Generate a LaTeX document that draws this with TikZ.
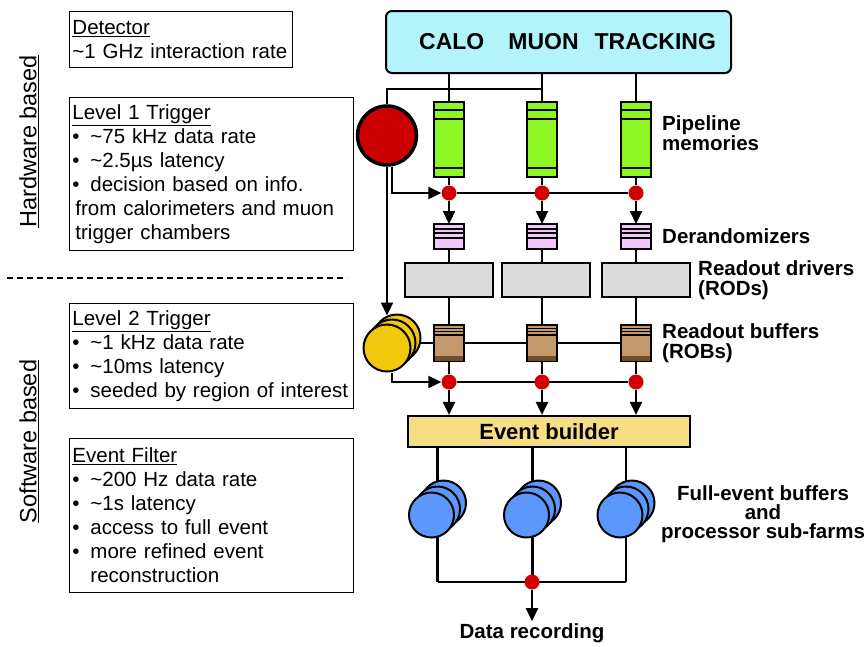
\documentclass[tikz,border=0pt]{standalone}
\usepackage{fontspec}
\setmainfont{Liberation Sans}
\usetikzlibrary{positioning,arrows.meta,calc,backgrounds}

\definecolor{detcyan}{RGB}{178,244,250}
\definecolor{pipegreen}{RGB}{141,247,37}
\definecolor{dermauve}{RGB}{240,200,250}
\definecolor{rodgray}{RGB}{220,220,220}
\definecolor{robtan}{RGB}{196,154,108}
\definecolor{robdark}{RGB}{110,80,45}
\definecolor{evyellow}{RGB}{246,222,132}
\definecolor{l1red}{RGB}{204,0,0}
\definecolor{l2gold}{RGB}{242,200,15}
\definecolor{farmblue}{RGB}{91,152,250}
\definecolor{dotred}{RGB}{210,0,0}

\newcommand{\bul}{\makebox[18pt][l]{\textbullet}}

\begin{document}
\begin{tikzpicture}[
  x=1pt, y=-1pt,
  infobox/.style={draw, line width=0.9pt, anchor=north west, align=left,
                  inner xsep=3pt, font=\fontsize{20.5}{24}\selectfont},
  side/.style={rotate=90, font=\fontsize{23.5}{26}\selectfont},
  lab/.style={font=\bfseries\fontsize{20.5}{20}\selectfont, align=left, anchor=west, inner sep=2pt},
  unit/.style={draw, line width=2pt, inner sep=0pt, outer sep=0pt, minimum width=30pt},
  pipe/.style={unit, fill=pipegreen, minimum height=75pt},
  derand/.style={unit, fill=dermauve, minimum height=25pt},
  rob/.style={unit, fill=robtan, minimum height=36pt},
  rod/.style={draw, line width=2.2pt, fill=rodgray, minimum width=88pt, minimum height=34pt},
  disk/.style={circle, draw, line width=2pt, inner sep=0pt},
  dot/.style={circle, fill=dotred, minimum size=15pt, inner sep=0pt},
  wire/.style={line width=2.2pt},
  arr/.style={wire, -{Triangle[length=13pt, width=12pt]}},
  sub/.style={line width=1.2pt},
  divider/.style={line width=2.5pt, dash pattern=on 6pt off 4pt}
]
\useasboundingbox (0,0) rectangle (866,646);

% Left: trigger levels
\node[side] (hw) at (29,141.5) {\underline{Hardware based}};
\node[side] (sw) at (29,441.5) {\underline{Software based}};
\node[infobox, text width=217pt, minimum height=56pt] (detinfo) at (69,11)
  {\underline{Detector}\\\textasciitilde1 GHz interaction rate};
\node[infobox, text width=278pt, minimum height=153pt] (l1info) at (69,97)
  {\underline{Level 1 Trigger}\\
   \bul\textasciitilde75 kHz data rate\\
   \bul\textasciitilde2.5µs latency\\
   \bul decision based on info.\\
   \hspace*{3pt}from calorimeters and muon\\
   \hspace*{3pt}trigger chambers};
\node[infobox, text width=278pt, minimum height=105pt] (l2info) at (69,303)
  {\underline{Level 2 Trigger}\\
   \bul\textasciitilde1 kHz data rate\\
   \bul\textasciitilde10ms latency\\
   \bul seeded by region of interest};
\node[infobox, text width=278pt, minimum height=154pt] (efinfo) at (69,438)
  {\underline{Event Filter}\\
   \bul\textasciitilde200 Hz data rate\\
   \bul\textasciitilde1s latency\\
   \bul access to full event\\
   \bul more refined event\\
   \hspace*{18pt}reconstruction};
\draw[divider] (7,278) -- (347,278);

% Detector and readout chain
\node[draw, line width=2pt, rounded corners=6pt, fill=detcyan, anchor=north west,
      minimum height=62pt, text width=315pt, inner xsep=15pt, align=right,
      font=\bfseries\fontsize{23}{24}\selectfont] (det) at (385,10)
  {CALO\hspace{24pt}MUON\hspace{16pt}TRACKING};
\foreach \i/\x in {1/449,2/542,3/636} {
  \node[pipe] (p\i) at (\x,139.5) {};
  \node[dot] (q\i) at (\x,193) {};
  \node[derand] (d\i) at (\x,236.5) {};
  \node[rob] (b\i) at (\x,343) {};
  \node[dot] (c\i) at (\x,382) {};
}
\foreach \i/\x in {1/449,2/546,3/646}
  \node[rod] (r\i) at (\x,280) {};
\node[draw, line width=2.2pt, fill=evyellow, minimum width=282pt, minimum height=31pt,
      font=\bfseries\fontsize{22}{24}\selectfont] (eb) at (549,431.5) {Event builder};

% Trigger processors
\node[disk, fill=l1red, line width=3.5pt, minimum size=59pt] (l1) at (387,135.5) {};
\node[disk, fill=l2gold, minimum size=47pt] (l2c) at (397,338) {};
\node[disk, fill=l2gold, minimum size=47pt] (l2b) at (392,343) {};
\node[disk, fill=l2gold, minimum size=47pt] (l2) at (387,348) {};

% Farms
\foreach \i/\x in {1/431.5,2/526.5,3/620} {
  \node[disk, fill=farmblue, minimum size=45pt] (fc\i) at (\x+12,503) {};
  \node[disk, fill=farmblue, minimum size=45pt] (fb\i) at (\x+6,509) {};
  \node[disk, fill=farmblue, minimum size=45pt] (fa\i) at (\x,515) {};
}
\node[dot] (out) at (532,582) {};

% Box details
\foreach \i in {1,2,3} {
  \draw[sub] ($(p\i.north west)+(0,8)$) -- ($(p\i.north east)+(0,8)$);
  \draw[sub] ($(p\i.north west)+(0,17)$) -- ($(p\i.north east)+(0,17)$);
  \draw[sub] ($(p\i.south west)+(0,-9)$) -- ($(p\i.south east)+(0,-9)$);
  \draw[sub] ($(d\i.north west)+(0,5)$) -- ($(d\i.north east)+(0,5)$);
  \draw[sub] ($(d\i.north west)+(0,9)$) -- ($(d\i.north east)+(0,9)$);
  \draw[sub] ($(d\i.north west)+(0,14)$) -- ($(d\i.north east)+(0,14)$);
  \draw[sub] ($(b\i.north west)+(0,3.5)$) -- ($(b\i.north east)+(0,3.5)$);
  \draw[sub] ($(b\i.north west)+(0,6.5)$) -- ($(b\i.north east)+(0,6.5)$);
  \draw[sub] ($(b\i.north west)+(0,10)$) -- ($(b\i.north east)+(0,10)$);
  \fill[robdark] ($(b\i.south west)+(1,-5)$) rectangle ($(b\i.south east)+(-1,0)$);
}

% Labels
\node[lab] (lpipe) at (660,133) {Pipeline\\memories};
\node[lab] (lder) at (660,236) {Derandomizers};
\node[lab] (lrod) at (696,280) {Readout drivers\\(RODs)};
\node[lab] (lrob) at (660,343) {Readout buffers\\(ROBs)};
\node[lab, anchor=center, align=center, font=\bfseries\fontsize{20.5}{19}\selectfont]
  (lfarm) at (763,514) {Full-event buffers\\and\\processor sub-farms};
\node[lab, anchor=center] (lrec) at (532,633) {Data recording};

% Connections
\begin{scope}[on background layer]
  \foreach \i in {1,2,3} {
    \draw[wire] (det.south -| p\i) -- (p\i.north);
    \draw[wire] (p\i.south) -- (q\i);
    \draw[arr] (q\i) -- (d\i.north);
    \draw[wire] (d\i.south) -- (b\i.north);
    \draw[wire] (b\i.south) -- (c\i);
    \draw[arr] (c\i) -- (c\i |- eb.north);
    \draw[wire] (eb.south -| fb\i) -- (fb\i |- out);
  }
  \coordinate (l1in) at (l1 |- 0,89);
  \draw[wire] (l1in -| p2) -- (l1in) -- (l1.north);
  \draw[arr] ($(l1.south)+(5,0)$) |- (q1);
  \draw[wire] (q1) -- (q3);
  \draw[arr] (l1.south) -- ($(l1.south |- l2c.north)+(0,2)$);
  \draw[wire] (l2 |- b1) -- (b3);
  \draw[arr] ($(l2.south)+(5,0)$) |- (c1);
  \draw[wire] (c1) -- (c3);
  \draw[wire] (fb1 |- out) -- (fb3 |- out);
  \draw[arr] (out) -- (lrec.north);
\end{scope}
\end{tikzpicture}
\end{document}
